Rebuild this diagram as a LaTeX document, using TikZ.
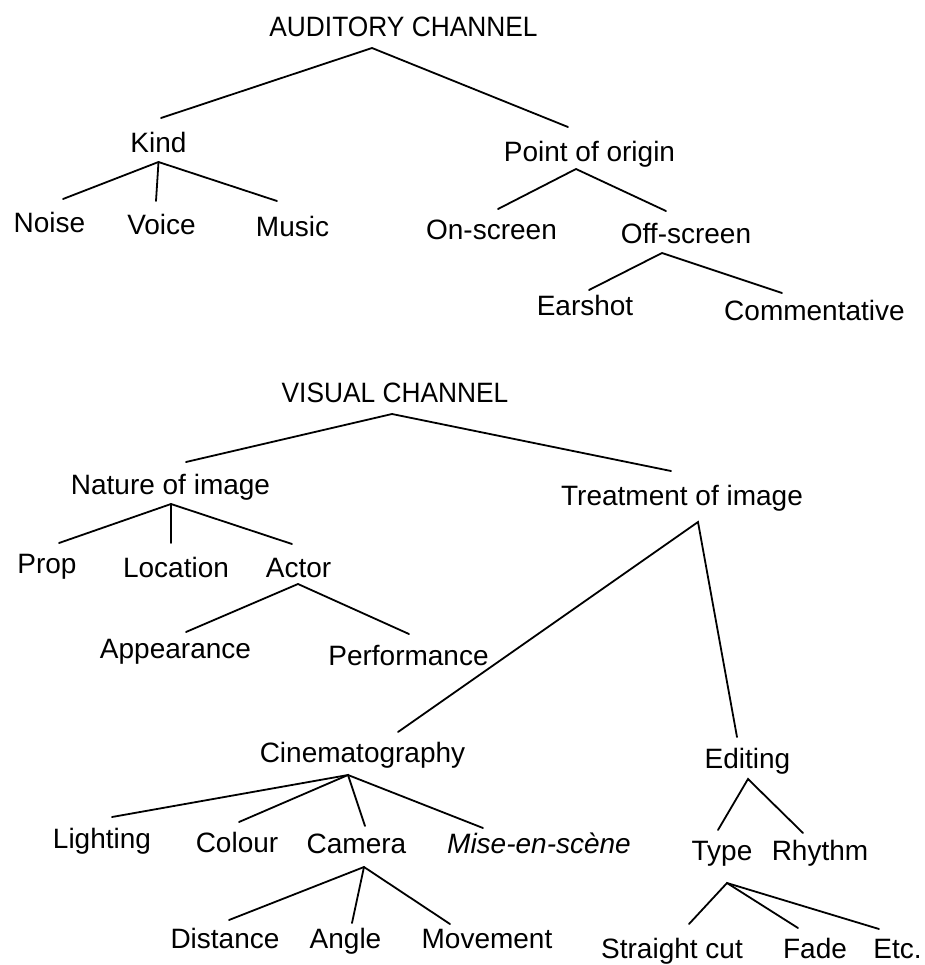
\documentclass[tikz,border=0pt]{standalone}
\usepackage{fontspec}
\setmainfont{Liberation Sans}
\newfontfamily\titlefont[FakeStretch=0.94]{Liberation Sans}
\usetikzlibrary{calc}

\tikzset{
  lbl/.style={inner sep=0pt, outer ysep=5pt, text height=10pt, text depth=0pt, anchor=base},
  title/.style={lbl, font=\fontsize{14}{16}\titlefont},
  branch/.style={line width=0.9pt, line cap=round}
}

\begin{document}
\begin{tikzpicture}[x=0.5pt,y=-0.5pt,font=\fontsize{14}{16}\selectfont]
  \useasboundingbox (0,0) rectangle (925,965);

  % auditory channel
  \node[title] (aud)   at (403.5,36)  {AUDITORY CHANNEL};
  \node[lbl] (kind)    at (158.5,152) {Kind};
  \node[lbl] (poo)     at (589.5,161) {Point of origin};
  \node[lbl] (noise)   at (49.5,232)  {Noise};
  \node[lbl] (voice)   at (161.5,234) {Voice};
  \node[lbl] (music)   at (292.5,236) {Music};
  \node[lbl] (onscr)   at (491.5,239) {On-screen};
  \node[lbl] (offscr)  at (686,243)   {Off-screen};
  \node[lbl] (earshot) at (585,315)   {Earshot};
  \node[lbl] (comm)    at (814.5,320) {Commentative};

  \coordinate (aud-f)    at ($(aud.south)+(-31.5,2)$);
  \coordinate (kind-f)   at (kind.south);
  \coordinate (poo-f)    at ($(poo.south)+(-13.5,-2)$);
  \coordinate (offscr-f) at ($(offscr.south)+(-24,0)$);

  \draw[branch] ($(kind.north)+(2.5,-4)$) -- (aud-f) -- ($(poo.north)+(-21.5,-4)$);
  \draw[branch] ($(noise.north)+(13.5,-3)$) -- (kind-f) -- ($(music.north)+(-15.5,-5)$);
  \draw[branch] (kind-f) -- ($(voice.north)+(-5.5,-3)$);
  \draw[branch] ($(onscr.north)+(6.5,0)$) -- (poo-f) -- ($(offscr.north)+(-20,-2)$);
  \draw[branch] ($(earshot.north)+(4,5)$) -- (offscr-f) -- ($(comm.north)+(-32.5,3)$);

  % visual channel
  \node[title] (vis)    at (395,402)   {VISUAL CHANNEL};
  \node[lbl] (nature)   at (170.5,494) {Nature of image};
  \node[lbl] (treat)    at (682,505)   {Treatment of image};
  \node[lbl] (prop)     at (47,573)    {Prop};
  \node[lbl] (loc)      at (176,577)   {Location};
  \node[lbl] (actor)    at (298.5,577) {Actor};
  \node[lbl] (appear)   at (175.5,658) {Appearance};
  \node[lbl] (perf)     at (408.5,665) {Performance};
  \node[lbl] (cine)     at (362.5,762) {Cinematography};
  \node[lbl] (edit)     at (747.5,768) {Editing};
  \node[lbl] (light)    at (102,848)   {Lighting};
  \node[lbl] (colour)   at (237,852)   {Colour};
  \node[lbl] (camera)   at (356.5,853) {Camera};
  \node[lbl] (mise)     at (539,853)   {\itshape Mise-en-scène};
  \node[lbl] (type)     at (722,860)   {Type};
  \node[lbl] (rhythm)   at (820,860)   {Rhythm};
  \node[lbl] (dist)     at (225,948)   {Distance};
  \node[lbl] (angle)    at (345.5,948) {Angle};
  \node[lbl] (move)     at (487,948)   {Movement};
  \node[lbl] (straight) at (672,958)   {Straight cut};
  \node[lbl] (fade)     at (815,958)   {Fade};
  \node[lbl] (etc)      at (897.5,958) {Etc.};

  \coordinate (vis-f)    at ($(vis.south)+(-3,2)$);
  \coordinate (nature-f) at ($(nature.south)+(0.5,0)$);
  \coordinate (actor-f)  at ($(actor.south)+(-0.5,-3)$);
  \coordinate (treat-f)  at ($(treat.south)+(16,7)$);
  \coordinate (cine-f)   at ($(cine.south)+(-14.5,3)$);
  \coordinate (camera-f) at ($(camera.south)+(7.5,4)$);
  \coordinate (edit-f)   at ($(edit.south)+(0.5,1)$);
  \coordinate (type-f)   at ($(type.south)+(5,13)$);

  \draw[branch] ($(nature.north)+(15.5,-2)$) -- (vis-f) -- ($(treat.north)+(-11,-4)$);
  \draw[branch] ($(prop.north)+(12,0)$) -- (nature-f) -- ($(actor.north)+(-6.5,-3)$);
  \draw[branch] (nature-f) -- ($(loc.north)+(-5,-4)$);
  \draw[branch] ($(appear.north)+(10.5,4)$) -- (actor-f) -- ($(perf.north)+(0.5,-1)$);
  \draw[branch] ($(cine.north)+(35.5,0)$) -- (treat-f) -- ($(edit.north)+(-10.5,-1)$);
  \draw[branch] ($(light.north)+(10,-1)$) -- (cine-f) -- ($(mise.north)+(-56,5)$);
  \draw[branch] ($(colour.north)+(2,0)$) -- (cine-f) -- ($(camera.north)+(8.5,3)$);
  \draw[branch] ($(dist.north)+(4,2)$) -- (camera-f) -- ($(move.north)+(-37,6)$);
  \draw[branch] (camera-f) -- ($(angle.north)+(6.5,5)$);
  \draw[branch] ($(type.north)+(-4,0)$) -- (edit-f) -- ($(rhythm.north)+(-17,3)$);
  \draw[branch] ($(straight.north)+(17,-4)$) -- (type-f) -- ($(etc.north)+(-18.5,1)$);
  \draw[branch] (type-f) -- ($(fade.north)+(-17,0)$);
\end{tikzpicture}
\end{document}
